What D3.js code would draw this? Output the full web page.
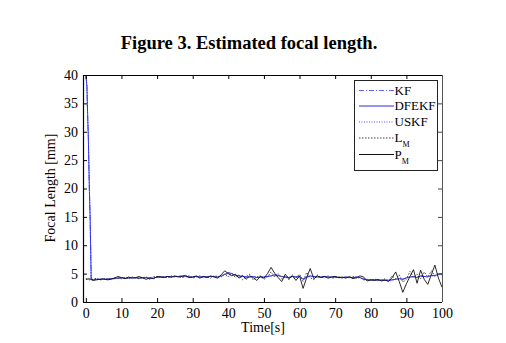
<!DOCTYPE html>
<html>
<head>
<meta charset="utf-8">
<script src="https://cdn.jsdelivr.net/npm/d3@7"></script>
<style>
  html, body { margin: 0; padding: 0; background: #fff; }
  svg { display: block; }
  svg text, svg tspan { font-family: "Liberation Serif", "DejaVu Serif", serif; fill: #000; }
</style>
</head>
<body>
<svg id="chart" width="506" height="343"></svg>
<script>
// Time axis of the measurements (one sample per second)
const measTime = d3.range(0, 101);

// Filter output: fine samples during the initial convergence, then one per second
const spikeTime = [0, 0.3, 0.5, 0.7, 1.0, 1.2, 1.5];
const filterTime = spikeTime.concat(d3.range(2, 101));

// Measurement P_M (solid black)
const pmValues = [
  4.0,4.1,3.8,3.9,4.0,4.1,3.9,4.0,4.2,4.5,
  4.3,4.1,4.4,4.2,4.3,4.5,4.2,4.0,4.3,4.1,
  4.5,4.4,4.3,4.5,4.4,4.6,4.4,4.5,4.7,4.3,
  4.4,4.6,4.2,4.5,4.3,4.6,4.4,4.2,4.8,5.5,
  5.0,4.6,4.9,4.2,4.7,4.0,4.6,4.3,3.8,4.5,
  4.2,5.0,6.1,5.1,4.3,3.6,4.9,4.1,4.6,3.8,
  4.6,2.4,4.3,5.9,4.1,4.6,4.3,4.5,4.2,4.4,
  4.5,4.3,4.4,4.2,4.5,4.1,4.3,4.6,4.4,3.7,
  3.9,3.8,4.0,3.7,3.9,3.6,4.3,5.3,3.6,1.7,
  3.2,4.5,5.7,3.3,5.6,4.0,3.1,4.8,6.5,4.2,
  2.6
];

// Measurement L_M (dotted)
const lmValues = [
  4.1,3.9,4.0,4.2,3.9,4.0,4.1,4.0,4.3,4.2,
  4.1,4.3,4.1,4.4,4.2,4.1,4.3,4.4,4.0,4.5,
  4.3,4.5,4.4,4.3,4.6,4.4,4.5,4.3,4.5,4.6,
  4.2,4.4,4.6,4.3,4.5,4.2,4.6,4.5,4.4,4.9,
  4.4,5.1,4.3,4.8,3.9,4.5,4.9,3.9,4.4,4.6,
  4.0,4.4,5.3,4.4,5.0,4.1,4.5,3.9,4.8,4.2,
  4.9,3.6,5.2,4.3,3.9,4.8,4.3,4.4,4.6,4.2,
  4.3,4.5,4.2,4.4,4.3,4.5,4.2,4.3,3.9,4.0,
  3.8,4.0,3.9,3.8,4.1,3.8,4.6,4.1,4.8,3.5,
  4.0,5.4,4.3,4.9,4.1,5.3,4.4,5.5,4.6,5.1,
  4.7
];

// KF estimate (dash-dot)
const kfValues = [
  40,38,33,29,19.5,15,4.0,
  3.9,4.0,4.0,4.0,4.1,4.1,4.1,4.2,
  4.2,4.2,4.3,4.3,4.3,4.2,4.3,4.3,4.2,4.2,
  4.4,4.4,4.4,4.5,4.4,4.5,4.5,4.6,4.5,4.4,
  4.4,4.5,4.4,4.5,4.4,4.5,4.5,4.4,4.6,4.8,
  5.1,5.0,4.7,4.6,4.5,4.4,4.4,4.5,4.3,4.4,
  4.4,4.5,4.6,4.7,4.6,4.5,4.4,4.3,4.5,4.4,
  4.5,4.1,4.3,4.6,4.5,4.4,4.4,4.5,4.4,4.4,
  4.4,4.3,4.3,4.4,4.3,4.3,4.4,4.3,4.1,3.9,
  3.9,3.9,3.8,3.9,3.8,3.8,3.9,4.0,4.1,4.0,
  4.2,4.4,4.5,4.4,4.6,4.5,4.5,4.7,4.7,4.9,
  5.0
];

// DFEKF estimate (solid blue)
const dfekfValues = [
  40,38,33,29,19.5,15,4.0,
  3.9,4.0,4.0,4.0,4.0,4.1,4.1,4.2,
  4.3,4.2,4.2,4.3,4.3,4.2,4.3,4.3,4.1,4.2,
  4.4,4.4,4.4,4.5,4.4,4.5,4.5,4.6,4.5,4.4,
  4.4,4.5,4.4,4.5,4.4,4.5,4.5,4.4,4.6,4.9,
  5.2,5.0,4.7,4.6,4.5,4.4,4.4,4.5,4.3,4.4,
  4.4,4.5,4.6,4.8,4.7,4.5,4.4,4.3,4.5,4.4,
  4.5,4.0,4.4,4.6,4.5,4.4,4.4,4.5,4.4,4.4,
  4.4,4.3,4.3,4.4,4.3,4.3,4.4,4.3,4.0,3.9,
  3.9,3.9,3.8,3.9,3.8,3.8,3.9,4.0,4.1,4.0,
  4.3,4.4,4.5,4.3,4.6,4.5,4.4,4.7,4.6,4.9,
  5.0
];

// USKF estimate (dotted blue)
const uskfValues = [
  40,38,33,29,19.5,15,4.0,
  4.0,4.0,4.0,4.1,4.0,4.1,4.2,4.2,
  4.3,4.2,4.3,4.3,4.2,4.2,4.3,4.2,4.1,4.2,
  4.4,4.4,4.5,4.4,4.4,4.5,4.5,4.5,4.5,4.4,
  4.4,4.5,4.4,4.4,4.4,4.5,4.5,4.4,4.5,4.8,
  5.0,4.9,4.7,4.6,4.5,4.4,4.4,4.5,4.4,4.4,
  4.4,4.5,4.6,4.7,4.6,4.5,4.4,4.4,4.5,4.4,
  4.5,4.1,4.4,4.5,4.5,4.4,4.4,4.4,4.4,4.4,
  4.4,4.3,4.3,4.3,4.3,4.3,4.4,4.3,4.0,3.9,
  3.9,3.9,3.8,3.8,3.8,3.8,3.9,4.0,4.1,4.0,
  4.2,4.4,4.4,4.4,4.5,4.5,4.5,4.6,4.6,4.8,
  4.9
];

const xTicks = [0, 10, 20, 30, 40, 50, 60, 70, 80, 90, 100];
const yTicks = [0, 5, 10, 15, 20, 25, 30, 35, 40];

const titleText = "Figure 3. Estimated focal length.";
const xLabel = "Time[s]";
const yLabel = "Focal Length [mm]";

const series = [
  { name: "KF",    sub: "",  t: filterTime, v: kfValues,    color: "#6060ff", dash: "5,2,1,2", width: 0.9 },
  { name: "DFEKF", sub: "",  t: filterTime, v: dfekfValues, color: "#2a2aee", dash: null,      width: 0.9 },
  { name: "USKF",  sub: "",  t: filterTime, v: uskfValues,  color: "#5050ff", dash: "1,1.5",   width: 0.9 },
  { name: "L",     sub: "M", t: measTime,   v: lmValues,    color: "#444444", dash: "1.5,1.5", width: 1 },
  { name: "P",     sub: "M", t: measTime,   v: pmValues,    color: "#111111", dash: null,      width: 0.9 }
];

const serif = "'Liberation Serif', 'DejaVu Serif', serif";
const svg = d3.select("#chart");
const plot = { left: 83, right: 442, top: 75, bottom: 302 };

const x = d3.scaleLinear().domain([-0.8, 100]).range([plot.left, plot.right]);
const y = d3.scaleLinear().domain([0, 40]).range([plot.bottom, plot.top]);

// Title
svg.append("text")
  .attr("x", 249).attr("y", 49)
  .attr("text-anchor", "middle")
  .attr("font-family", serif)
  .style("font-size", "18.5px").style("font-weight", "bold")
  .text(titleText);

// Clip for the data lines
svg.append("defs").append("clipPath").attr("id", "plotClip")
  .append("rect")
  .attr("x", plot.left).attr("y", plot.top)
  .attr("width", plot.right - plot.left).attr("height", plot.bottom - plot.top);

// Data lines (drawn back to front so the solid black lies on top)
const lineGen = d3.line().x(d => x(d[0])).y(d => y(d[1]));
const drawOrder = [2, 0, 1, 3, 4];
drawOrder.forEach(i => {
  const s = series[i];
  const pts = s.t.map((tt, k) => [tt, s.v[k]]);
  svg.append("path")
    .attr("clip-path", "url(#plotClip)")
    .attr("d", lineGen(pts))
    .attr("fill", "none")
    .attr("stroke", s.color)
    .attr("stroke-width", s.width)
    .attr("stroke-dasharray", s.dash);
});

// Axes with inward ticks on all four sides
const tickLen = 4;
const xBottom = d3.axisBottom(x).tickValues(xTicks).tickSizeInner(-tickLen).tickSizeOuter(0).tickPadding(6);
const xTop = d3.axisTop(x).tickValues(xTicks).tickSizeInner(-tickLen).tickSizeOuter(0).tickFormat("");
const yLeft = d3.axisLeft(y).tickValues(yTicks).tickSizeInner(-tickLen).tickSizeOuter(0).tickPadding(5);
const yRight = d3.axisRight(y).tickValues(yTicks).tickSizeInner(-tickLen).tickSizeOuter(0).tickFormat("");

function styleAxis(g, color) {
  g.attr("font-family", serif);
  g.select(".domain").remove();
  g.selectAll("line").attr("stroke", color).attr("stroke-width", 1);
  g.selectAll("text").style("font-size", "14px").attr("fill", "#000");
}

svg.append("g").attr("transform", `translate(0,${plot.bottom})`).call(xBottom).call(g => styleAxis(g, "#000"));
svg.append("g").attr("transform", `translate(0,${plot.top})`).call(xTop).call(g => styleAxis(g, "#000"));
svg.append("g").attr("transform", `translate(${plot.left},0)`).call(yLeft).call(g => styleAxis(g, "#000"));
svg.append("g").attr("transform", `translate(${plot.right},0)`).call(yRight).call(g => styleAxis(g, "#444"));

// Frame
svg.append("line").attr("x1", plot.left).attr("x2", plot.right).attr("y1", plot.bottom + 0.5).attr("y2", plot.bottom + 0.5).attr("stroke", "#000").attr("stroke-width", 1.2);
svg.append("line").attr("x1", plot.left).attr("x2", plot.right).attr("y1", plot.top + 0.5).attr("y2", plot.top + 0.5).attr("stroke", "#000").attr("stroke-width", 1);
svg.append("line").attr("x1", plot.left + 0.5).attr("x2", plot.left + 0.5).attr("y1", plot.top).attr("y2", plot.bottom).attr("stroke", "#000").attr("stroke-width", 1.2);
svg.append("line").attr("x1", plot.right + 0.5).attr("x2", plot.right + 0.5).attr("y1", plot.top).attr("y2", plot.bottom).attr("stroke", "#555").attr("stroke-width", 1);

// Axis labels
svg.append("text")
  .attr("x", 263).attr("y", 332)
  .attr("text-anchor", "middle")
  .attr("font-family", serif)
  .style("font-size", "14px")
  .text(xLabel);

svg.append("text")
  .attr("transform", "translate(55,188) rotate(-90)")
  .attr("text-anchor", "middle")
  .attr("font-family", serif)
  .style("font-size", "14px")
  .text(yLabel);

// Legend
const legend = svg.append("g").attr("font-family", serif);
legend.append("rect")
  .attr("x", 354.5).attr("y", 80.5)
  .attr("width", 83).attr("height", 90)
  .attr("fill", "#fff").attr("stroke", "#222").attr("stroke-width", 1);

const legendY = [90, 105.5, 121.5, 137.5, 154];
const legendTextMax = 41;
series.forEach((s, i) => {
  const ly = legendY[i];
  legend.append("line")
    .attr("x1", 359).attr("x2", 394)
    .attr("y1", ly + 0.5).attr("y2", ly + 0.5)
    .attr("stroke", s.color)
    .attr("stroke-width", 1)
    .attr("stroke-dasharray", s.dash);
  const t = legend.append("text")
    .attr("x", 394.5).attr("y", ly + 4.5)
    .attr("font-family", serif)
    .style("font-size", "13px");
  t.append("tspan").attr("font-family", serif).text(s.name);
  if (s.sub) {
    t.append("tspan").attr("font-family", serif).attr("dy", 5).style("font-size", "8px").text(s.sub);
  }
  // keep the longest label inside the legend frame
  const len = t.node().getComputedTextLength();
  if (len > legendTextMax) {
    t.attr("textLength", legendTextMax).attr("lengthAdjust", "spacingAndGlyphs");
  }
});
</script>
</body>
</html>
